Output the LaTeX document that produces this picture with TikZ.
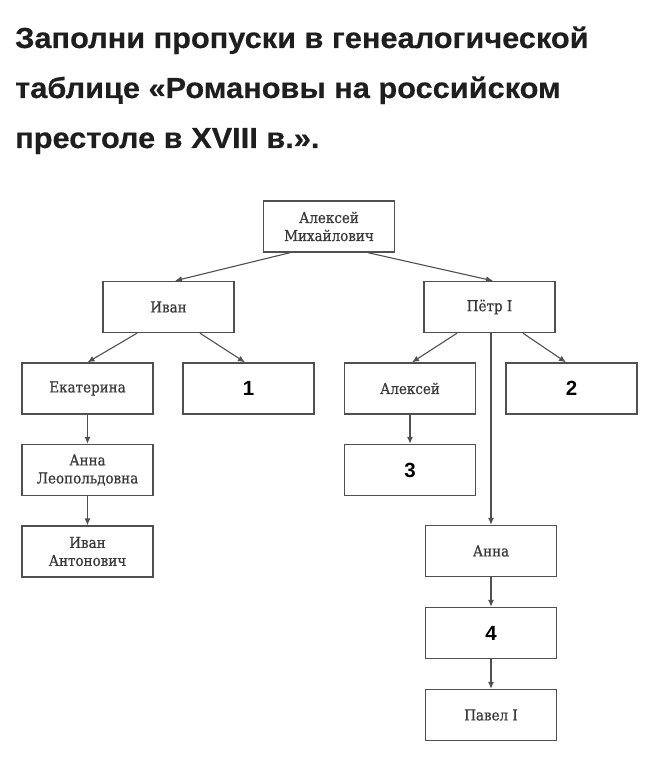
\documentclass[tikz,border=0pt]{standalone}
\usepackage{fontspec}
\usetikzlibrary{arrows.meta}
\newfontfamily\titlefont[FakeStretch=1.06,FakeBold=0.4]{Liberation Sans Bold}
\newfontfamily\boxfont[FakeBold=0.8]{DejaVu Serif Condensed}
\newfontfamily\numfont{Liberation Sans Bold}
\definecolor{ink}{HTML}{1E1E1E}
\definecolor{boxline}{HTML}{505050}
\definecolor{boxtext}{HTML}{3A3A3A}
\tikzset{
  person/.style={draw=boxline, line width=1.4pt, minimum width=131pt, minimum height=51pt,
    inner sep=0pt, align=center, text=boxtext, font=\boxfont\fontsize{15}{18}\selectfont},
  blank/.style={person, text=black, font=\numfont\fontsize{20.5}{22}\selectfont},
  link/.style={draw=boxline, line width=1.1pt, -{Latex[length=7pt,width=6pt]}},
  titleline/.style={anchor=base west, inner sep=0pt, text=ink, font=\titlefont\fontsize{29}{34}\selectfont}
}
\begin{document}
\begin{tikzpicture}[x=1pt,y=-1pt]
\useasboundingbox[fill=white] (0,0) rectangle (669,759);
\node[titleline] (t1) at (15,48) {Заполни пропуски в генеалогической};
\node[titleline] (t2) at (15,98) {таблице «Романовы на российском};
\node[titleline] (t3) at (15,148) {престоле в XVIII в.».};

\node[person] (top) at (329,226.5) {Алексей\\Михайлович};
\node[person] (ivan) at (168.5,307) {Иван};
\node[person] (petr) at (489.5,307) {Пётр I};
\node[person] (ekat) at (87.5,388.5) {Екатерина};
\node[blank] (n1) at (248.5,388.5) {1};
\node[person] (alex) at (410,388.5) {Алексей};
\node[blank] (n2) at (571.5,388.5) {2};
\node[person] (annaL) at (87.5,470) {Анна\\Леопольдовна};
\node[person] (ivanA) at (87.5,551.5) {Иван\\Антонович};
\node[blank] (n3) at (410,470) {3};
\node[person] (anna) at (491,551) {Анна};
\node[blank] (n4) at (491,633) {4};
\node[person] (pavel) at (491,715) {Павел I};

\draw[link] ([xshift=-39pt]top.south) -- ([xshift=6.5pt]ivan.north);
\draw[link] ([xshift=39pt]top.south) -- ([xshift=3.5pt]petr.north);
\draw[link] ([xshift=-31.5pt]ivan.south) -- (ekat.north);
\draw[link] ([xshift=31.5pt]ivan.south) -- ([xshift=-3.5pt]n1.north);
\draw[link] ([xshift=-32.5pt]petr.south) -- ([xshift=2pt]alex.north);
\draw[link] ([xshift=33.5pt]petr.south) -- ([xshift=-5.5pt]n2.north);
\draw[link] (anna.north |- petr.south) -- (anna.north);
\draw[link] (ekat) -- (annaL);
\draw[link] (annaL) -- (ivanA);
\draw[link] (alex) -- (n3);
\draw[link] (anna) -- (n4);
\draw[link] (n4) -- (pavel);
\end{tikzpicture}
\end{document}
